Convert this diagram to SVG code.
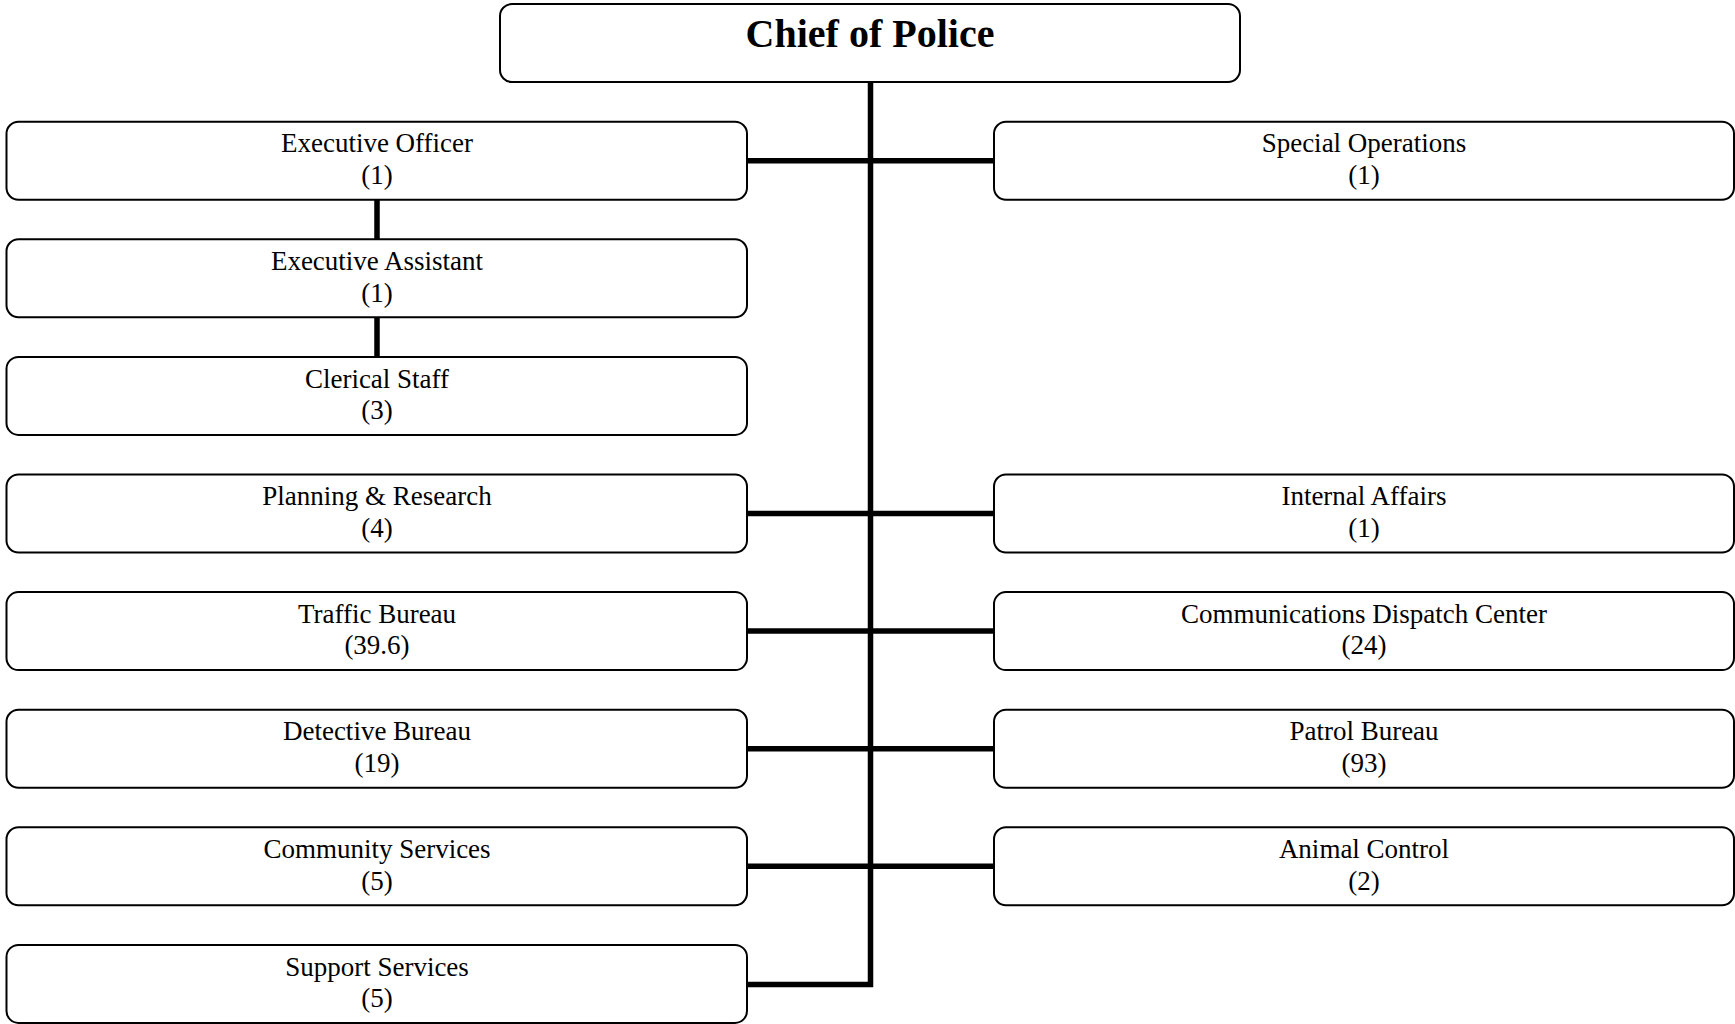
<svg xmlns="http://www.w3.org/2000/svg" width="1735" height="1024" viewBox="0 0 1735 1024">
<style>
.box{fill:#fff;stroke:#000;stroke-width:2}
.t{font-family:"Liberation Serif","Times New Roman",serif;font-size:27px;text-anchor:middle;fill:#000}
.title{font-family:"Liberation Serif","Times New Roman",serif;font-size:40px;font-weight:bold;text-anchor:middle;fill:#000}
.c{fill:none;stroke:#000;stroke-width:5.5}
</style>
<rect width="1735" height="1024" fill="#fff"/>
<g id="connectors">
<path class="c" d="M870.5 82 V984.5 H747"/>
<path class="c" d="M747 160.7 H994"/>
<path class="c" d="M747 513.5 H994"/>
<path class="c" d="M747 631.1 H994"/>
<path class="c" d="M747 748.7 H994"/>
<path class="c" d="M747 866.3 H994"/>
<path class="c" d="M377 200 V239.3 M377 317.3 V356.9"/>
</g>
<g id="chief">
<rect class="box" x="500" y="4" width="740" height="78" rx="12"/>
<text class="title" x="870" y="47">Chief of Police</text>
</g>
<g id="executive-officer">
<rect class="box" x="6.5" y="121.7" width="740.5" height="78" rx="12"/>
<text class="t" x="377" y="152.3">Executive Officer</text>
<text class="t" x="377" y="184">(1)</text>
</g>
<g id="executive-assistant">
<rect class="box" x="6.5" y="239.3" width="740.5" height="78" rx="12"/>
<text class="t" x="377" y="269.9">Executive Assistant</text>
<text class="t" x="377" y="301.6">(1)</text>
</g>
<g id="clerical-staff">
<rect class="box" x="6.5" y="356.9" width="740.5" height="78" rx="12"/>
<text class="t" x="377" y="387.5">Clerical Staff</text>
<text class="t" x="377" y="419.2">(3)</text>
</g>
<g id="planning-research">
<rect class="box" x="6.5" y="474.5" width="740.5" height="78" rx="12"/>
<text class="t" x="377" y="505.1">Planning &amp; Research</text>
<text class="t" x="377" y="536.8">(4)</text>
</g>
<g id="traffic-bureau">
<rect class="box" x="6.5" y="592.1" width="740.5" height="78" rx="12"/>
<text class="t" x="377" y="622.7">Traffic Bureau</text>
<text class="t" x="377" y="654.4">(39.6)</text>
</g>
<g id="detective-bureau">
<rect class="box" x="6.5" y="709.7" width="740.5" height="78" rx="12"/>
<text class="t" x="377" y="740.3">Detective Bureau</text>
<text class="t" x="377" y="772">(19)</text>
</g>
<g id="community-services">
<rect class="box" x="6.5" y="827.3" width="740.5" height="78" rx="12"/>
<text class="t" x="377" y="857.9">Community Services</text>
<text class="t" x="377" y="889.6">(5)</text>
</g>
<g id="support-services">
<rect class="box" x="6.5" y="944.9" width="740.5" height="78" rx="12"/>
<text class="t" x="377" y="975.5">Support Services</text>
<text class="t" x="377" y="1007.2">(5)</text>
</g>
<g id="special-operations">
<rect class="box" x="994" y="121.7" width="740" height="78" rx="12"/>
<text class="t" x="1364" y="152.3">Special Operations</text>
<text class="t" x="1364" y="184">(1)</text>
</g>
<g id="internal-affairs">
<rect class="box" x="994" y="474.5" width="740" height="78" rx="12"/>
<text class="t" x="1364" y="505.1">Internal Affairs</text>
<text class="t" x="1364" y="536.8">(1)</text>
</g>
<g id="communications-dispatch">
<rect class="box" x="994" y="592.1" width="740" height="78" rx="12"/>
<text class="t" x="1364" y="622.7">Communications Dispatch Center</text>
<text class="t" x="1364" y="654.4">(24)</text>
</g>
<g id="patrol-bureau">
<rect class="box" x="994" y="709.7" width="740" height="78" rx="12"/>
<text class="t" x="1364" y="740.3">Patrol Bureau</text>
<text class="t" x="1364" y="772">(93)</text>
</g>
<g id="animal-control">
<rect class="box" x="994" y="827.3" width="740" height="78" rx="12"/>
<text class="t" x="1364" y="857.9">Animal Control</text>
<text class="t" x="1364" y="889.6">(2)</text>
</g>
</svg>
